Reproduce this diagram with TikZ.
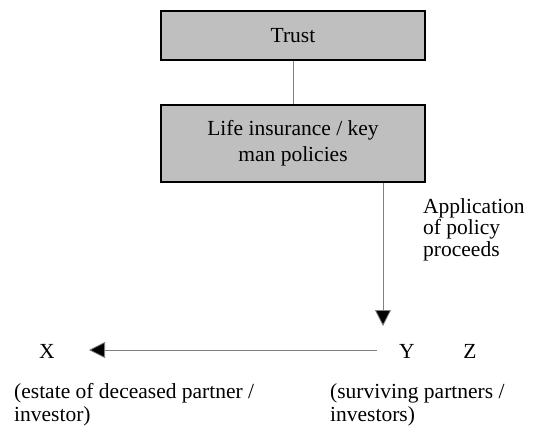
\documentclass[tikz,border=0pt]{standalone}
\usepackage{fontspec}
\setmainfont{Liberation Serif}
\usetikzlibrary{arrows.meta,positioning}
\tikzset{
  box/.style={draw, line width=1.6pt, fill=black!25, minimum width=264pt, align=center, inner sep=0pt},
  label/.style={anchor=base west, inner sep=0pt, align=left},
  flow/.style={draw=black!50, line width=0.8pt},
  head/.style={-{Triangle[length=16pt, width=16pt, fill=black]}},
}
\begin{document}
\begin{tikzpicture}[x=1pt, y=-1pt, font=\fontsize{21.5}{23}\selectfont]
  \useasboundingbox (0,0) rectangle (541,434);
  % trust and policies
  \node[box, minimum height=49pt] (trust) at (293,35.5) {Trust};
  \node[box, minimum height=77pt, font=\fontsize{21.5}{26}\selectfont] (policies) at (293,143.5) {Life insurance / key\\man policies};
  \draw[flow] (trust.south) -- (policies.north);
  % parties
  \node[anchor=base, inner sep=0pt] (x) at (47,358) {X};
  \node[anchor=base, inner sep=0pt] (y) at (407,358) {Y};
  \node[anchor=base, inner sep=0pt] (z) at (470,358) {Z};
  \coordinate (ytop) at (383,326);
  \coordinate (xend) at (89,350);
  \coordinate (ystart) at (377,350);
  \draw[flow, head] (policies.south -| ytop) -- (ytop);
  \draw[flow, head] (ystart) -- (xend);
  % notes
  \node[label, font=\fontsize{21.5}{21.5}\selectfont] (proceeds) at (423,256) {Application\\of policy\\proceeds};
  \node[label] (estate) at (14,421) {(estate of deceased partner /\\investor)};
  \node[label] (surviving) at (330,421) {(surviving partners /\\investors)};
\end{tikzpicture}
\end{document}
